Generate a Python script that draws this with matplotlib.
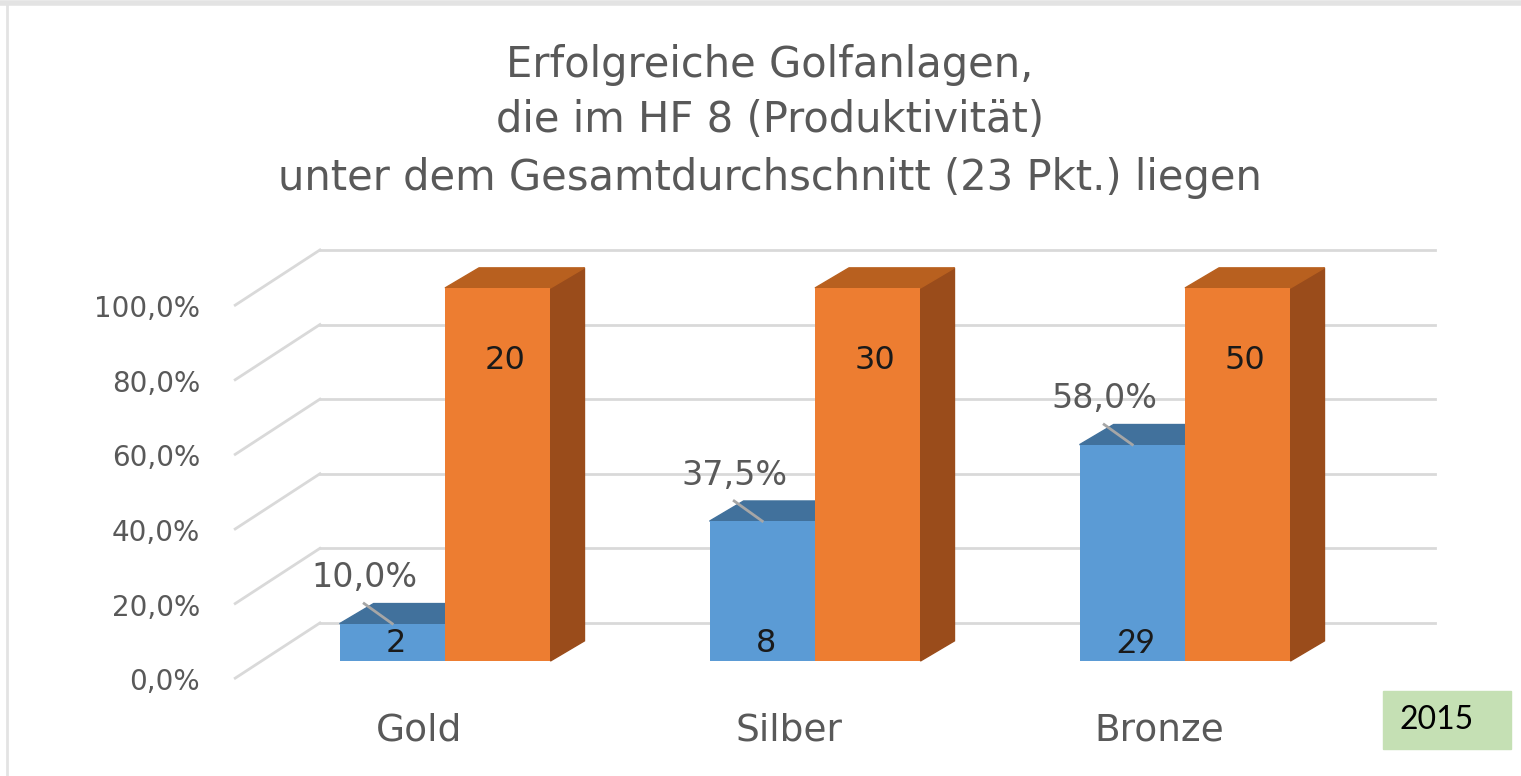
import matplotlib
matplotlib.use("Agg")
import matplotlib.pyplot as plt
from matplotlib.patches import Polygon, Rectangle
from matplotlib.lines import Line2D

# data
categories = ["Gold", "Silber", "Bronze"]
blue_pct = [10.0, 37.5, 58.0]
blue_pct_labels = ["10,0%", "37,5%", "58,0%"]
blue_counts = ["2", "8", "29"]
orange_pct = [100.0, 100.0, 100.0]
orange_counts = ["20", "30", "50"]
y_ticks = [0, 20, 40, 60, 80, 100]
y_tick_labels = ["0,0%", "20,0%", "40,0%", "60,0%", "80,0%", "100,0%"]
title_lines = [
    "Erfolgreiche Golfanlagen,",
    "die im HF 8 (Produktivität)",
    "unter dem Gesamtdurchschnitt (23 Pkt.) liegen",
]
year = "2015"

# colours
BLUE, BLUE_TOP = "#5b9bd5", "#41719c"
ORANGE, ORANGE_TOP, ORANGE_SIDE = "#ed7d31", "#b8601f", "#9a4c1b"
GRID = "#d9d9d9"
TEXT = "#595959"

# fake 3d geometry (data units: x = category, y = percent)
W = 0.285
DEPTH = (0.092, 5.4)      # bar depth
BACK = (0.159, 10.2)      # back wall relative to bar front
FRONT = (-0.070, -4.6)    # front plane relative to bar front
GRID_X = (-0.338, 2.676)

FONT = ["DejaVu Sans"]
FONT2 = ["Lato", "DejaVu Sans"]

fig = plt.figure(figsize=(15.21, 7.76), dpi=100)
ax = fig.add_axes([0, 0, 1, 1])
ax.set_xlim(-445 / 370, 1076 / 370)
ax.set_ylim(-115 / 3.73, 661 / 3.73)
ax.axis("off")

# frame of the chart area
fig.add_artist(Line2D([0, 1], [0.996, 0.996], transform=fig.transFigure, color="#e3e3e3", lw=4))
fig.add_artist(Line2D([0.0046, 0.0046], [0, 0.995], transform=fig.transFigure, color="#e3e3e3", lw=2))

# gridlines: back wall plus the diagonal on the left side wall
for v, lab in zip(y_ticks, y_tick_labels):
    ax.plot([GRID_X[0], GRID_X[1]], [v + BACK[1], v + BACK[1]], color=GRID, lw=2, zorder=1)
    ax.plot([GRID_X[0] + FRONT[0] - BACK[0], GRID_X[0]], [v + FRONT[1], v + BACK[1]],
            color=GRID, lw=2, zorder=1)
    ax.text(-0.662, v + FRONT[1] - 1.1, lab, ha="right", va="center",
            fontsize=20, color=TEXT, family=FONT)

dx, dy = DEPTH
for i in range(len(categories)):
    # blue bar
    b = blue_pct[i]
    x0 = i - W
    ax.bar(x0, b, W, align="edge", color=BLUE, zorder=3)
    ax.add_patch(Polygon([(x0, b), (x0 + W, b), (x0 + W + dx, b + dy), (x0 + dx, b + dy)],
                         closed=True, color=BLUE_TOP, zorder=2))
    # orange bar
    o = orange_pct[i]
    x1 = i
    ax.add_patch(Polygon([(x1 + W, 0), (x1 + W + dx, dy), (x1 + W + dx, o + dy), (x1 + W, o)],
                         closed=True, color=ORANGE_SIDE, zorder=3))
    ax.add_patch(Polygon([(x1, o), (x1 + W, o), (x1 + W + dx, o + dy), (x1 + dx, o + dy)],
                         closed=True, color=ORANGE_TOP, zorder=3))
    ax.bar(x1, o, W, align="edge", color=ORANGE, zorder=4)

    # labels
    ax.text(x1 + W / 2 + 0.02, o - 19.5, orange_counts[i], ha="center", va="center",
            fontsize=23, color="#1a1a1a", family=FONT, zorder=5)
    cnt_font = FONT2 if len(blue_counts[i]) > 1 else FONT
    cnt_size = 24 if len(blue_counts[i]) > 1 else 23
    ax.text(x0 + W / 2 + 0.01, 4.6, blue_counts[i], ha="center", va="center",
            fontsize=cnt_size, color="#1a1a1a", family=cnt_font, zorder=5)
    lx = x0 + W / 2
    ax.plot([lx - 0.076, lx], [b + 5.4, b], color="#a6a6a6", lw=2, zorder=5)
    ax.text(lx - 0.076, b + 12.3, blue_pct_labels[i], ha="center", va="center",
            fontsize=24, color=TEXT, family=FONT, zorder=5)

    ax.text(i + FRONT[0], -18.5, categories[i], ha="center", va="center",
            fontsize=27, color=TEXT, family=FONT)

# title
for line, ypx in zip(title_lines, [65, 120, 178]):
    fig.text(770 / 1521, 1 - ypx / 776, line, ha="center", va="center",
             fontsize=30, color=TEXT, family=FONT)

# year box
fig.add_artist(Rectangle((1383 / 1521, 1 - 749 / 776), 128 / 1521, 58 / 776,
                         transform=fig.transFigure, color="#c5e0b4"))
fig.text(1437 / 1521, 1 - 720 / 776, year, ha="center", va="center",
         fontsize=23, color="black", family=FONT2)

fig.savefig("out.png", dpi=100)
